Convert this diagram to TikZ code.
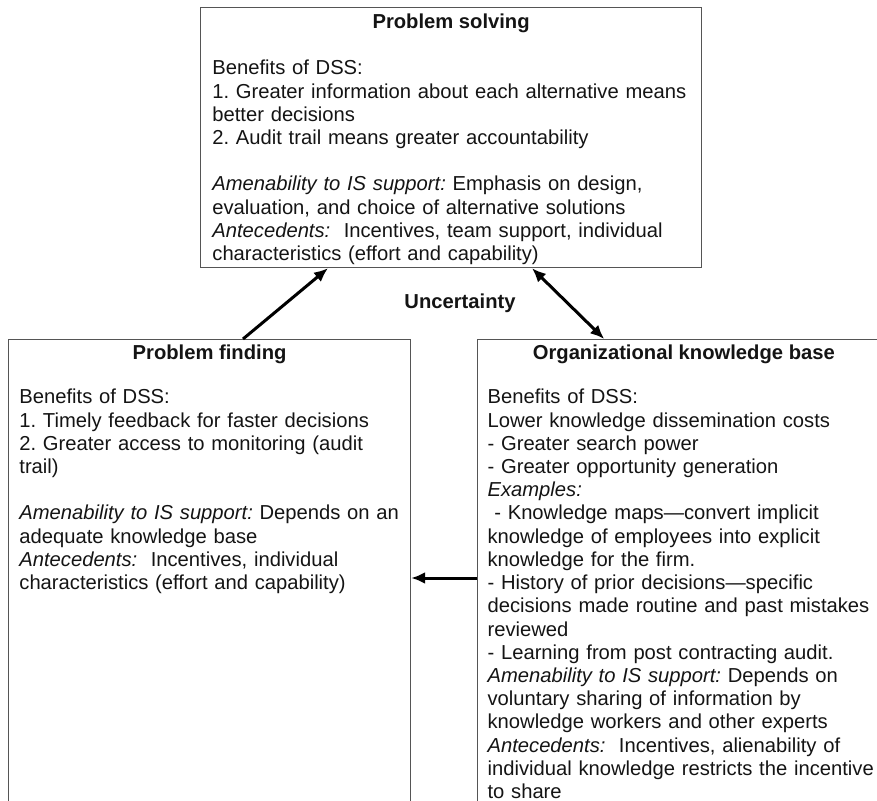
\documentclass[tikz,border=0pt]{standalone}
\usepackage{fontspec}
\setmainfont{Liberation Sans}
\usepackage{xcolor}
\usepackage{tikz}
\usetikzlibrary{arrows.meta,positioning}
\definecolor{panelEdge}{HTML}{555555}
\definecolor{panelInk}{HTML}{141414}
\newcommand{\panelsize}{\fontsize{10.1}{11.6}\selectfont\frenchspacing}
\tikzset{
  panel/.style={
    rectangle,
    draw=panelEdge,
    line width=0.6pt,
    inner sep=0pt,
    anchor=north west
  },
  panelTitle/.style={
    inner sep=0pt,
    text=panelInk,
    font=\panelsize\bfseries,
    anchor=base
  },
  panelBody/.style={
    inner sep=0pt,
    text=panelInk,
    align=left,
    text width=250pt,
    font=\panelsize,
    anchor=base west
  },
  link/.style={
    -{Latex[length=7pt,width=6pt]},
    line width=1.5pt,
    draw=black
  },
  linkBoth/.style={
    {Latex[length=7pt,width=6pt]}-{Latex[length=7pt,width=6pt]},
    line width=1.5pt,
    draw=black
  }
}

\begin{document}
\begin{tikzpicture}[x=0.5pt,y=-0.5pt]
  \useasboundingbox (0,0) rectangle (877,801);
  \clip (0,0) rectangle (877,801);
  \node[panel,minimum width=250.5pt,minimum height=130pt] (solving) at (200,7) {};
  \node[panel,minimum width=201pt,minimum height=240pt] (finding) at (8,339) {};
  \node[panel,minimum width=206pt,minimum height=240pt,right=33pt of finding.north east,anchor=north west] (base) {};
  \node[panelTitle] (solvingTitle) at ([yshift=-11pt]solving.north) {Problem solving};
  \node[panelTitle] (findingTitle) at ([yshift=-10.5pt]finding.north) {Problem finding};
  \node[panelTitle] (baseTitle) at ([yshift=-10.5pt]base.north) {Organizational knowledge base};
  \node[panelTitle,anchor=center] (uncertainty) at (460,303) {Uncertainty};
  \node[panelBody] (solvingBody) at ([xshift=6pt,yshift=-34pt]solving.north west) {Benefits of DSS:\\
    1. Greater information about each alternative means\\
    better decisions\\
    2. Audit trail means greater accountability\\[11.6pt]
    \textit{Amenability to IS support:} Emphasis on design,\\
    evaluation, and choice of alternative solutions\\
    \textit{Antecedents:}\ \ Incentives, team support, individual\\
    characteristics (effort and capability)};
  \node[panelBody] (findingBody) at ([xshift=5.5pt,yshift=-32.5pt]finding.north west) {Benefits of DSS:\\
    1. Timely feedback for faster decisions\\
    2. Greater access to monitoring (audit\\
    trail)\\[11.6pt]
    \textit{Amenability to IS support:} Depends on an\\
    adequate knowledge base\\
    \textit{Antecedents:}\ \ Incentives, individual\\
    characteristics (effort and capability)};
  \node[panelBody] (baseBody) at ([xshift=5pt,yshift=-32.5pt]base.north west) {Benefits of DSS:\\
    Lower knowledge dissemination costs\\
    - Greater search power\\
    - Greater opportunity generation\\
    \textit{Examples:}\\
    \ - Knowledge maps—convert implicit\\
    knowledge of employees into explicit\\
    knowledge for the firm.\\
    - History of prior decisions—specific\\
    decisions made routine and past mistakes\\
    reviewed\\
    - Learning from post contracting audit.\\
    \textit{Amenability to IS support:} Depends on\\
    voluntary sharing of information by\\
    knowledge workers and other experts\\
    \textit{Antecedents:}\ \ Incentives, alienability of\\
    individual knowledge restricts the incentive\\
    to share};
  \draw[link] ([xshift=117.5pt]finding.north west) -- ([xshift=64pt]solving.south west);
  \draw[linkBoth] ([xshift=166pt]solving.south west) -- ([xshift=63.5pt]base.north west);
  \draw[link] ([yshift=-119.5pt]base.north west) -- ([yshift=-119.5pt]finding.north east);
\end{tikzpicture}
\end{document}
